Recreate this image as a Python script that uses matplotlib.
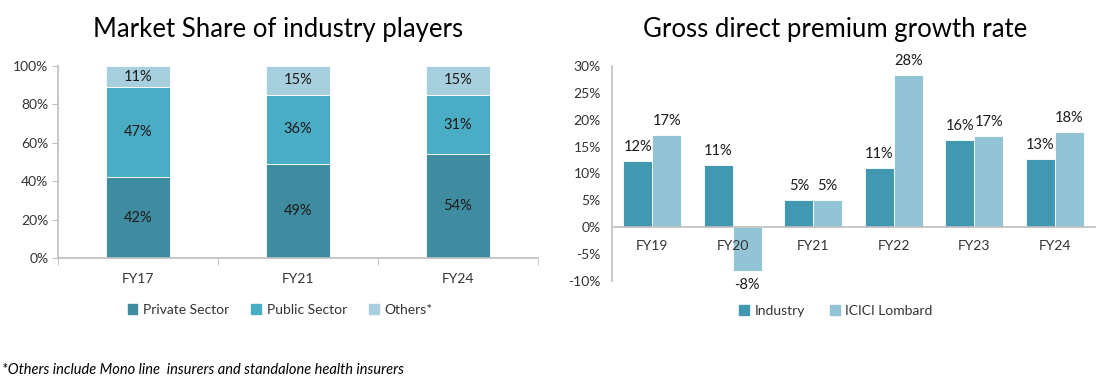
import matplotlib
matplotlib.use('Agg')
import matplotlib.pyplot as plt
from matplotlib.patches import Patch

plt.rcParams['font.family'] = ['Lato', 'DejaVu Sans']

# market share data
share_years = ['FY17', 'FY21', 'FY24']
private_sector = [42, 49, 54]
public_sector = [47, 36, 31]
others = [11, 15, 15]

# growth rate data
growth_years = ['FY19', 'FY20', 'FY21', 'FY22', 'FY23', 'FY24']
industry = [12.4, 11.5, 5.1, 11.1, 16.3, 12.7]
icici = [17.1, -8.1, 5.1, 28.4, 16.9, 17.7]
industry_labels = ['12%', '11%', '5%', '11%', '16%', '13%']
icici_labels = ['17%', '-8%', '5%', '28%', '17%', '18%']

c_private = '#3f8ca1'
c_public = '#4bacc6'
c_others = '#a8cfdd'
c_industry = '#4198b0'
c_icici = '#93c4d6'
axis_gray = '#bfbfbf'
txt = '#1a1a1a'

fig = plt.figure(figsize=(11.06, 3.88), dpi=100)

# left chart
ax1 = fig.add_axes([58 / 1106, 130 / 388, 480 / 1106, 192 / 388])
x = range(len(share_years))
w = 0.4
ax1.bar(x, private_sector, w, color=c_private, edgecolor='white', linewidth=0.6)
ax1.bar(x, public_sector, w, bottom=private_sector, color=c_public,
        edgecolor='white', linewidth=0.6)
bottom3 = [p + q for p, q in zip(private_sector, public_sector)]
ax1.bar(x, others, w, bottom=bottom3, color=c_others, edgecolor='white', linewidth=0.6)
for i in x:
    ax1.text(i, private_sector[i] / 2, f'{private_sector[i]}%', ha='center', va='center',
             fontsize=10.5, color=txt)
    ax1.text(i, private_sector[i] + public_sector[i] / 2, f'{public_sector[i]}%',
             ha='center', va='center', fontsize=10.5, color=txt)
    ax1.text(i, bottom3[i] + others[i] / 2, f'{others[i]}%', ha='center', va='center',
             fontsize=10.5, color=txt)
ax1.set_xlim(-0.5, 2.5)
ax1.set_ylim(0, 100)
ax1.set_yticks(range(0, 101, 20))
ax1.set_yticklabels([f'{v}%' for v in range(0, 101, 20)])
ax1.set_xticks(list(x))
ax1.set_xticklabels(share_years)
ax1.set_xticks([-0.5, 0.5, 1.5, 2.5], minor=True)
ax1.tick_params(axis='x', which='major', length=0, pad=11, labelsize=10, labelcolor='#333333')
ax1.tick_params(axis='x', which='minor', length=5, color=axis_gray, direction='out')
ax1.tick_params(axis='y', length=4, color=axis_gray, labelsize=10, labelcolor='#333333', pad=3)
for s in ['top', 'right']:
    ax1.spines[s].set_visible(False)
for s in ['left', 'bottom']:
    ax1.spines[s].set_color(axis_gray)
    ax1.spines[s].set_linewidth(1.2)
fig.text(278 / 1106, 1 - 30 / 388, 'Market Share of industry players', ha='center',
         va='center', fontsize=18.5, color='black')
fig.legend(handles=[Patch(color=c_private, label='Private Sector'),
                    Patch(color=c_public, label='Public Sector'),
                    Patch(color=c_others, label='Others*')],
           loc='center', bbox_to_anchor=(280 / 1106, 1 - 310 / 388), ncol=3, frameon=False,
           fontsize=10, handlelength=0.7, handleheight=0.7, handletextpad=0.4,
           columnspacing=1.6, labelcolor='#333333')

# right chart
ax2 = fig.add_axes([612 / 1106, 107 / 388, 483 / 1106, 215 / 388])
x2 = range(len(growth_years))
bw = 0.36
ax2.bar([i - bw / 2 for i in x2], industry, bw, color=c_industry, edgecolor='white',
        linewidth=0.6)
ax2.bar([i + bw / 2 for i in x2], icici, bw, color=c_icici, edgecolor='white', linewidth=0.6)
for i in x2:
    ax2.annotate(industry_labels[i], (i - bw / 2, industry[i]), xytext=(0, 5),
                 textcoords='offset points', ha='center', va='bottom', fontsize=10.5, color=txt)
    if icici[i] >= 0:
        ax2.annotate(icici_labels[i], (i + bw / 2, icici[i]), xytext=(0, 5),
                     textcoords='offset points', ha='center', va='bottom', fontsize=10.5,
                     color=txt)
    else:
        ax2.annotate(icici_labels[i], (i + bw / 2, icici[i]), xytext=(0, -5),
                     textcoords='offset points', ha='center', va='top', fontsize=10.5,
                     color=txt)
ax2.set_xlim(-0.5, 5.5)
ax2.set_ylim(-10, 30)
ax2.set_yticks(range(-10, 31, 5))
ax2.set_yticklabels([f'{v}%' for v in range(-10, 31, 5)])
ax2.set_xticks(list(x2))
ax2.set_xticklabels(growth_years)
ax2.spines['bottom'].set_position(('data', 0))
ax2.tick_params(axis='x', length=0, pad=9, labelsize=10, labelcolor='#333333')
ax2.tick_params(axis='y', length=0, labelsize=10, labelcolor='#333333', pad=8)
for s in ['top', 'right']:
    ax2.spines[s].set_visible(False)
for s in ['left', 'bottom']:
    ax2.spines[s].set_color(axis_gray)
    ax2.spines[s].set_linewidth(1.2)
fig.text(835 / 1106, 1 - 30 / 388, 'Gross direct premium growth rate', ha='center',
         va='center', fontsize=18.5, color='black')
fig.legend(handles=[Patch(color=c_industry, label='Industry'),
                    Patch(color=c_icici, label='ICICI Lombard')],
           loc='center', bbox_to_anchor=(836 / 1106, 1 - 311 / 388), ncol=2, frameon=False,
           fontsize=10, handlelength=0.7, handleheight=0.7, handletextpad=0.4,
           columnspacing=1.8, labelcolor='#333333')

fig.text(2 / 1106, 1 - 370 / 388,
         '*Others include Mono line  insurers and standalone health insurers',
         ha='left', va='center', fontsize=10.5, style='italic', color='black')

fig.savefig('out.png', dpi=100)
